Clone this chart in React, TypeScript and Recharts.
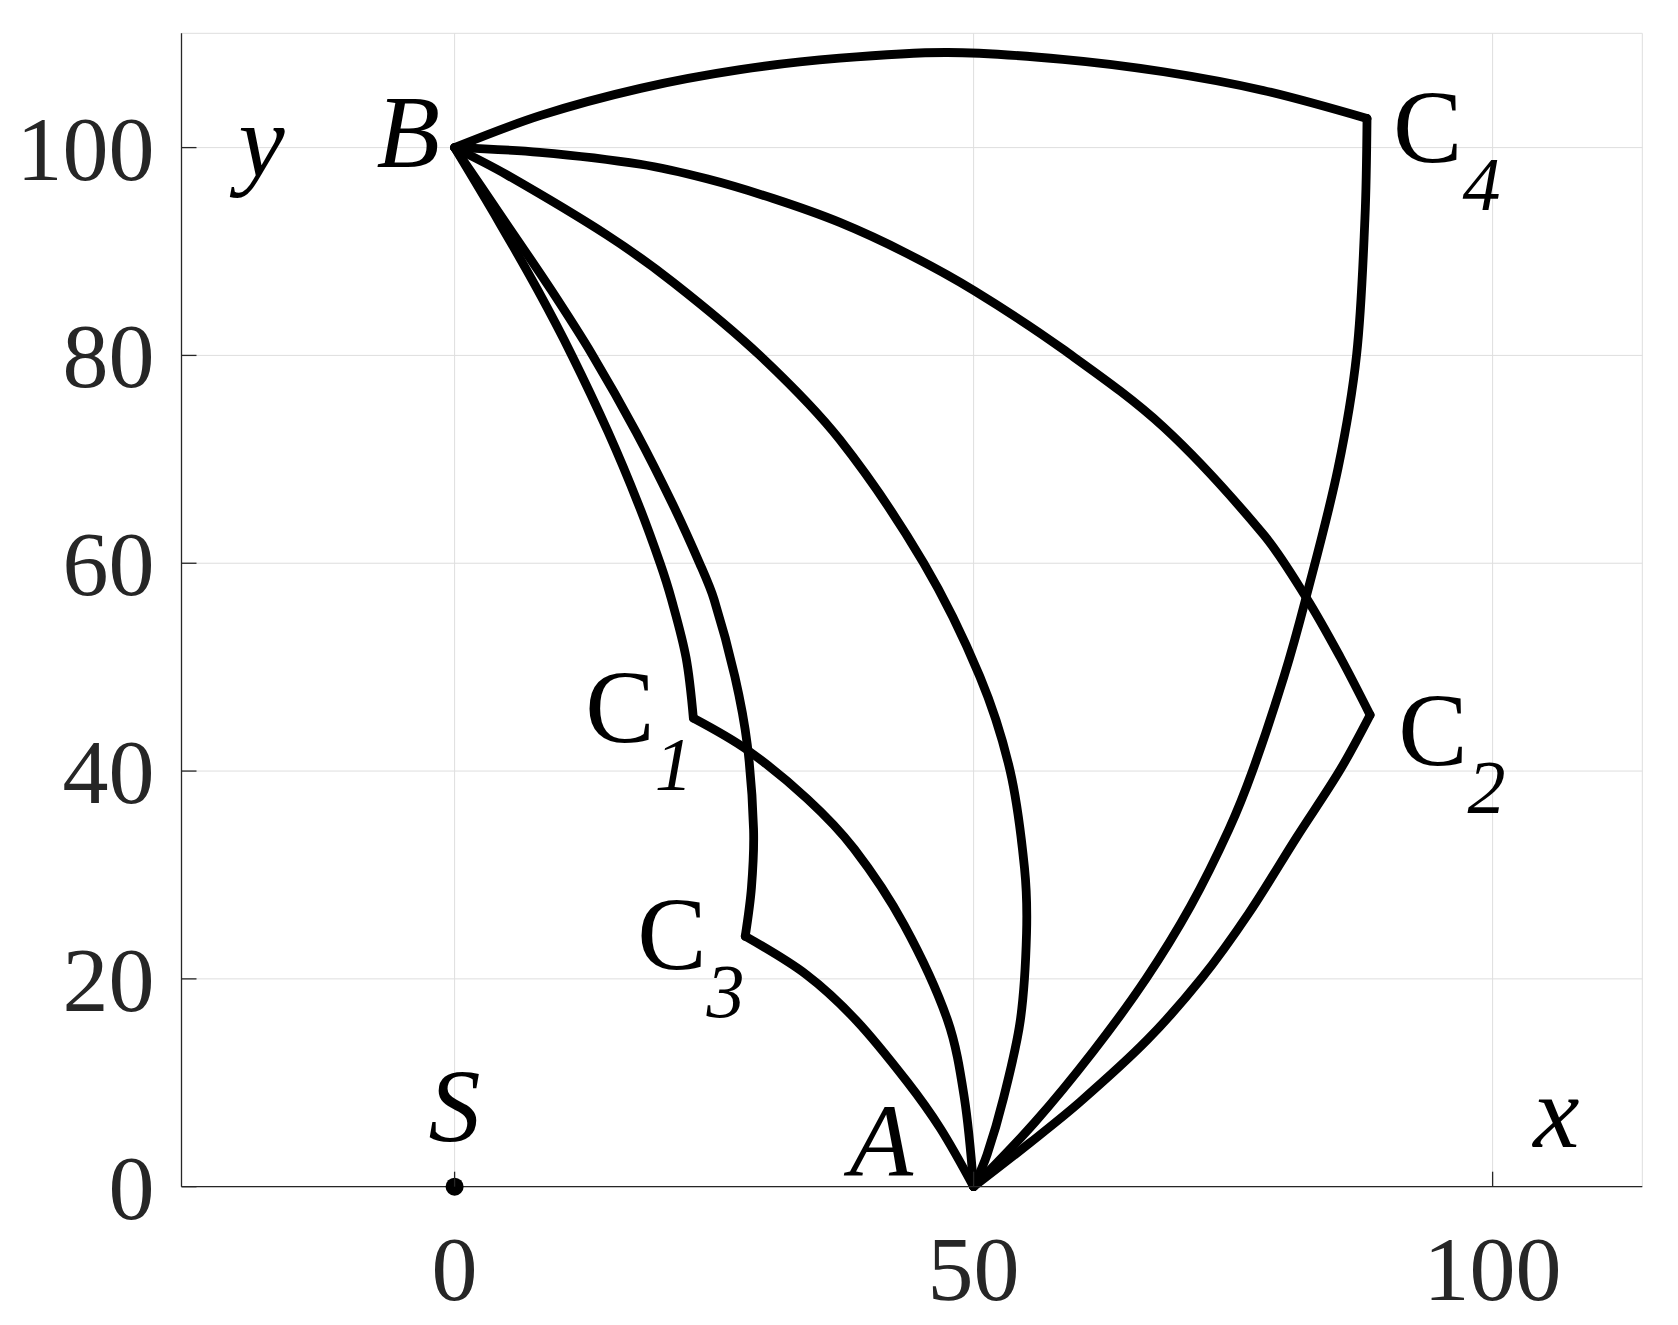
import {
    ComposedChart,
    Line,
    Scatter,
    XAxis,
    YAxis,
    CartesianGrid,
    ReferenceDot,
} from "recharts";

const FONT = "'Palatino Linotype', 'Book Antiqua', Palatino, 'Liberation Serif', serif";
const AXIS_COLOR = "#262626";
const GRID_COLOR = "#dedede";

const xTicks = [0, 50, 100];
const yTicks = [0, 20, 40, 60, 80, 100];

// B -> C4 (upper arc)
const bC4X = [0, 8.3, 17.9, 27.5, 37.1, 47.5, 58.6, 68.3, 77.9, 87.9];
const bC4Y = [100, 103.1, 105.7, 107.5, 108.6, 109.15, 108.5, 107.3, 105.5, 102.8];
// C4 -> A
const c4AX = [87.9, 87.7, 86.9, 85.1, 82.0, 79.9, 76.9, 74.6, 70.9, 66.6, 61.5, 55.9, 50];
const c4AY = [102.8, 93.2, 80.1, 69.1, 56.6, 49.1, 40.1, 34.4, 27.0, 20.0, 13.0, 6.2, 0];
// B -> C2
const bC2X = [0, 8.2, 17.9, 24.3, 30.7, 37.1, 43.6, 50.1, 58.6, 68.3, 77.9, 82.1, 85.3, 88.2];
const bC2Y = [100, 99.55, 98.4, 97.0, 95.1, 92.8, 89.8, 86.2, 80.6, 73.1, 62.8, 56.6, 51.0, 45.4];
// C2 -> A
const c2AX = [88.2, 85.3, 81.1, 76.5, 72.0, 66.7, 60.3, 55.4, 50];
const c2AY = [45.4, 40.1, 33.6, 26.3, 20.1, 14.1, 8.2, 4.2, 0];
// B -> A (direct)
const bAX = [0, 5.0, 14.65, 21.1, 29.4, 37.1, 45.2, 50.6, 53.5, 54.9, 55.1, 54.5, 52.9, 51.3, 50];
const bAY = [100, 97.4, 91.6, 87.0, 80.0, 71.9, 60.0, 49.1, 40.1, 30.7, 24.4, 16.0, 8.6, 3.1, 0];
// B -> C1
const bC1X = [0, 4.3, 8.0, 11.3, 14.8, 17.7, 19.8, 20.9, 22.3, 23.0];
const bC1Y = [100, 92.8, 86.3, 80.0, 72.6, 65.7, 60.0, 56.5, 50.9, 45.1];
// C1 -> A
const c1AX = [23.0, 28.1, 34.0, 38.5, 43.3, 47.5, 49.1, 50];
const c1AY = [45.1, 42.1, 37.3, 32.5, 25.2, 16.0, 8.6, 0];
// B -> C3
const bC3X = [0, 4.9, 9.3, 13.3, 17.5, 21.0, 23.6, 25.0, 27.0, 28.2, 28.8, 28.6, 28.0];
const bC3Y = [100, 92.8, 86.3, 80.0, 72.6, 65.7, 60.0, 56.5, 49.1, 42.5, 34.4, 28.8, 24.1];
// C3 -> A
const c3AX = [28.0, 33.9, 38.7, 43.6, 46.8, 50];
const c3AY = [24.1, 20.4, 16.0, 10.1, 5.6, 0];

// source point S
const sX = [0];
const sY = [0];

// labelled points
const pointNames = ["B", "C4", "C1", "C3", "C2", "A", "S"];
const pointX = [0, 87.9, 23.0, 28.0, 88.2, 50, 0];
const pointY = [100, 102.8, 45.1, 24.1, 45.4, 0, 0];

const toPoints = (xs: number[], ys: number[]) => xs.map((x, i) => ({ x, y: ys[i] }));

const curves = [
    { id: "bC4", data: toPoints(bC4X, bC4Y) },
    { id: "c4A", data: toPoints(c4AX, c4AY) },
    { id: "bC2", data: toPoints(bC2X, bC2Y) },
    { id: "c2A", data: toPoints(c2AX, c2AY) },
    { id: "bA", data: toPoints(bAX, bAY) },
    { id: "bC1", data: toPoints(bC1X, bC1Y) },
    { id: "c1A", data: toPoints(c1AX, c1AY) },
    { id: "bC3", data: toPoints(bC3X, bC3Y) },
    { id: "c3A", data: toPoints(c3AX, c3AY) },
];

// chord-length Catmull-Rom style curve, passed to Recharts as a d3 curve factory
const smoothCurve: any = (context: any) => {
    let pts: number[][] = [];
    return {
        areaStart() {},
        areaEnd() {},
        lineStart() {
            pts = [];
        },
        point(x: number, y: number) {
            pts.push([+x, +y]);
        },
        lineEnd() {
            const n = pts.length;
            if (!n) return;
            context.moveTo(pts[0][0], pts[0][1]);
            if (n === 1) return;
            if (n === 2) {
                context.lineTo(pts[1][0], pts[1][1]);
                return;
            }
            const d: number[] = [];
            for (let i = 0; i < n - 1; i++) {
                d.push(Math.hypot(pts[i + 1][0] - pts[i][0], pts[i + 1][1] - pts[i][1]) || 1e-6);
            }
            const t: number[][] = new Array(n);
            for (let i = 1; i < n - 1; i++) {
                const s = d[i - 1] + d[i];
                t[i] = [(pts[i + 1][0] - pts[i - 1][0]) / s, (pts[i + 1][1] - pts[i - 1][1]) / s];
            }
            t[0] = [
                (3 * (pts[1][0] - pts[0][0]) / d[0] - t[1][0]) / 2,
                (3 * (pts[1][1] - pts[0][1]) / d[0] - t[1][1]) / 2,
            ];
            const m = n - 1;
            t[m] = [
                (3 * (pts[m][0] - pts[m - 1][0]) / d[m - 1] - t[m - 1][0]) / 2,
                (3 * (pts[m][1] - pts[m - 1][1]) / d[m - 1] - t[m - 1][1]) / 2,
            ];
            for (let i = 0; i < m; i++) {
                const k = d[i] / 3;
                context.bezierCurveTo(
                    pts[i][0] + t[i][0] * k,
                    pts[i][1] + t[i][1] * k,
                    pts[i + 1][0] - t[i + 1][0] * k,
                    pts[i + 1][1] - t[i + 1][1] * k,
                    pts[i + 1][0],
                    pts[i + 1][1]
                );
            }
        },
    };
};

// text placement relative to each point (pixels)
const LABEL_STYLE: Record<string, { main: string; sub?: string; dx: number; dy: number; italic?: boolean; anchor?: string }> = {
    B: { main: "B", dx: -78, dy: 19, italic: true },
    C4: { main: "C", sub: "4", dx: 26, dy: 43 },
    C1: { main: "C", sub: "1", dx: -108, dy: 24 },
    C3: { main: "C", sub: "3", dx: -108, dy: 33 },
    C2: { main: "C", sub: "2", dx: 28, dy: 50 },
    A: { main: "A", dx: -124, dy: -11, italic: true },
    S: { main: "S", dx: 0, dy: -46, italic: true, anchor: "middle" },
};

const PointTag = (props: any) => {
    const vb = props.viewBox || {};
    const st = LABEL_STYLE[props.name];
    const x = (vb.x ?? props.x ?? 0) + (vb.width ?? 0) / 2 + st.dx;
    const y = (vb.y ?? props.y ?? 0) + (vb.height ?? 0) / 2 + st.dy;
    return (
        <text x={x} y={y} fontFamily={FONT} fontSize={104} fill="#000" textAnchor={st.anchor || "start"}>
            <tspan fontStyle={st.italic ? "italic" : "normal"}>{st.main}</tspan>
            {st.sub && (
                <tspan dy={48} fontSize={76} fontStyle="italic">
                    {st.sub}
                </tspan>
            )}
        </text>
    );
};

const BottomTick = (p: any) => (
    <g>
        <line x1={p.x} y1={p.y} x2={p.x} y2={p.y - 15} stroke={AXIS_COLOR} strokeWidth={1.3} />
        <text x={p.x} y={p.y + 113} textAnchor="middle" fontFamily={FONT} fontSize={92} fill={AXIS_COLOR}>
            {p.payload.value}
        </text>
    </g>
);

const LeftTick = (p: any) => (
    <g>
        <line x1={p.x} y1={p.y} x2={p.x + 15} y2={p.y} stroke={AXIS_COLOR} strokeWidth={1.3} />
        <text x={p.x - 27} y={p.y + 32} textAnchor="end" fontFamily={FONT} fontSize={92} fill={AXIS_COLOR}>
            {p.payload.value}
        </text>
    </g>
);

const TopTick = (p: any) => (
    <line x1={p.x} y1={p.y} x2={p.x} y2={p.y + 15} stroke={AXIS_COLOR} strokeWidth={1.3} />
);

const RightTick = (p: any) => (
    <line x1={p.x} y1={p.y} x2={p.x - 15} y2={p.y} stroke={AXIS_COLOR} strokeWidth={1.3} />
);

const YName = (p: any) => {
    const vb = p.viewBox || {};
    return (
        <text x={vb.x + vb.width + 80} y={vb.y + 143} textAnchor="middle" fontFamily={FONT} fontSize={104} fontStyle="italic" fill="#000">
            y
        </text>
    );
};

const XName = (p: any) => {
    const vb = p.viewBox || {};
    return (
        <text x={vb.x + vb.width - 86} y={vb.y - 40} textAnchor="middle" fontFamily={FONT} fontSize={104} fontStyle="italic" fill="#000">
            x
        </text>
    );
};

const X_DOMAIN: [number, number] = [-26.31, 114.42];
const Y_DOMAIN: [number, number] = [0, 111.0];

export default function App() {
    return (
        <div style={{ position: "absolute", left: 0, top: 0, width: 1678, height: 1325, background: "#fff" }}>
            <ComposedChart width={1678} height={1325} margin={{ top: 33.3, right: 35.7, left: 0, bottom: 0 }}>
                <CartesianGrid stroke={GRID_COLOR} strokeWidth={1} />
                <XAxis
                    dataKey="x"
                    type="number"
                    domain={X_DOMAIN}
                    ticks={xTicks}
                    interval={0}
                    height={138.3}
                    tickSize={0}
                    tickMargin={0}
                    tickLine={false}
                    axisLine={{ stroke: AXIS_COLOR, strokeWidth: 1.3 }}
                    tick={(p: any) => <BottomTick {...p} />}
                    label={<XName />}
                />
                <XAxis
                    xAxisId="top"
                    orientation="top"
                    type="number"
                    domain={X_DOMAIN}
                    ticks={xTicks}
                    interval={0}
                    height={0}
                    tickSize={0}
                    tickMargin={0}
                    tickLine={false}
                    axisLine={{ stroke: AXIS_COLOR, strokeWidth: 1.3 }}
                    tick={(p: any) => <TopTick {...p} />}
                />
                <YAxis
                    dataKey="y"
                    type="number"
                    domain={Y_DOMAIN}
                    ticks={yTicks}
                    interval={0}
                    width={181.5}
                    tickSize={0}
                    tickMargin={0}
                    tickLine={false}
                    axisLine={{ stroke: AXIS_COLOR, strokeWidth: 1.3 }}
                    tick={(p: any) => <LeftTick {...p} />}
                    label={<YName />}
                />
                <YAxis
                    yAxisId="right"
                    orientation="right"
                    type="number"
                    domain={Y_DOMAIN}
                    ticks={yTicks}
                    interval={0}
                    width={0}
                    tickSize={0}
                    tickMargin={0}
                    tickLine={false}
                    axisLine={{ stroke: AXIS_COLOR, strokeWidth: 1.3 }}
                    tick={(p: any) => <RightTick {...p} />}
                />
                {curves.map((c) => (
                    <Line
                        key={c.id}
                        data={c.data}
                        dataKey="y"
                        type={smoothCurve}
                        stroke="#000"
                        strokeWidth={8.8}
                        strokeLinecap="round"
                        strokeLinejoin="round"
                        dot={false}
                        activeDot={false}
                        isAnimationActive={false}
                    />
                ))}
                <Scatter
                    data={toPoints(sX, sY)}
                    dataKey="y"
                    fill="#000"
                    isAnimationActive={false}
                    shape={(p: any) => <circle cx={p.cx} cy={p.cy} r={9} fill="#000" />}
                />
                {pointNames.map((name, i) => (
                    <ReferenceDot
                        key={name}
                        x={pointX[i]}
                        y={pointY[i]}
                        r={0}
                        fill="none"
                        stroke="none"
                        label={<PointTag name={name} />}
                    />
                ))}
            </ComposedChart>
        </div>
    );
}
